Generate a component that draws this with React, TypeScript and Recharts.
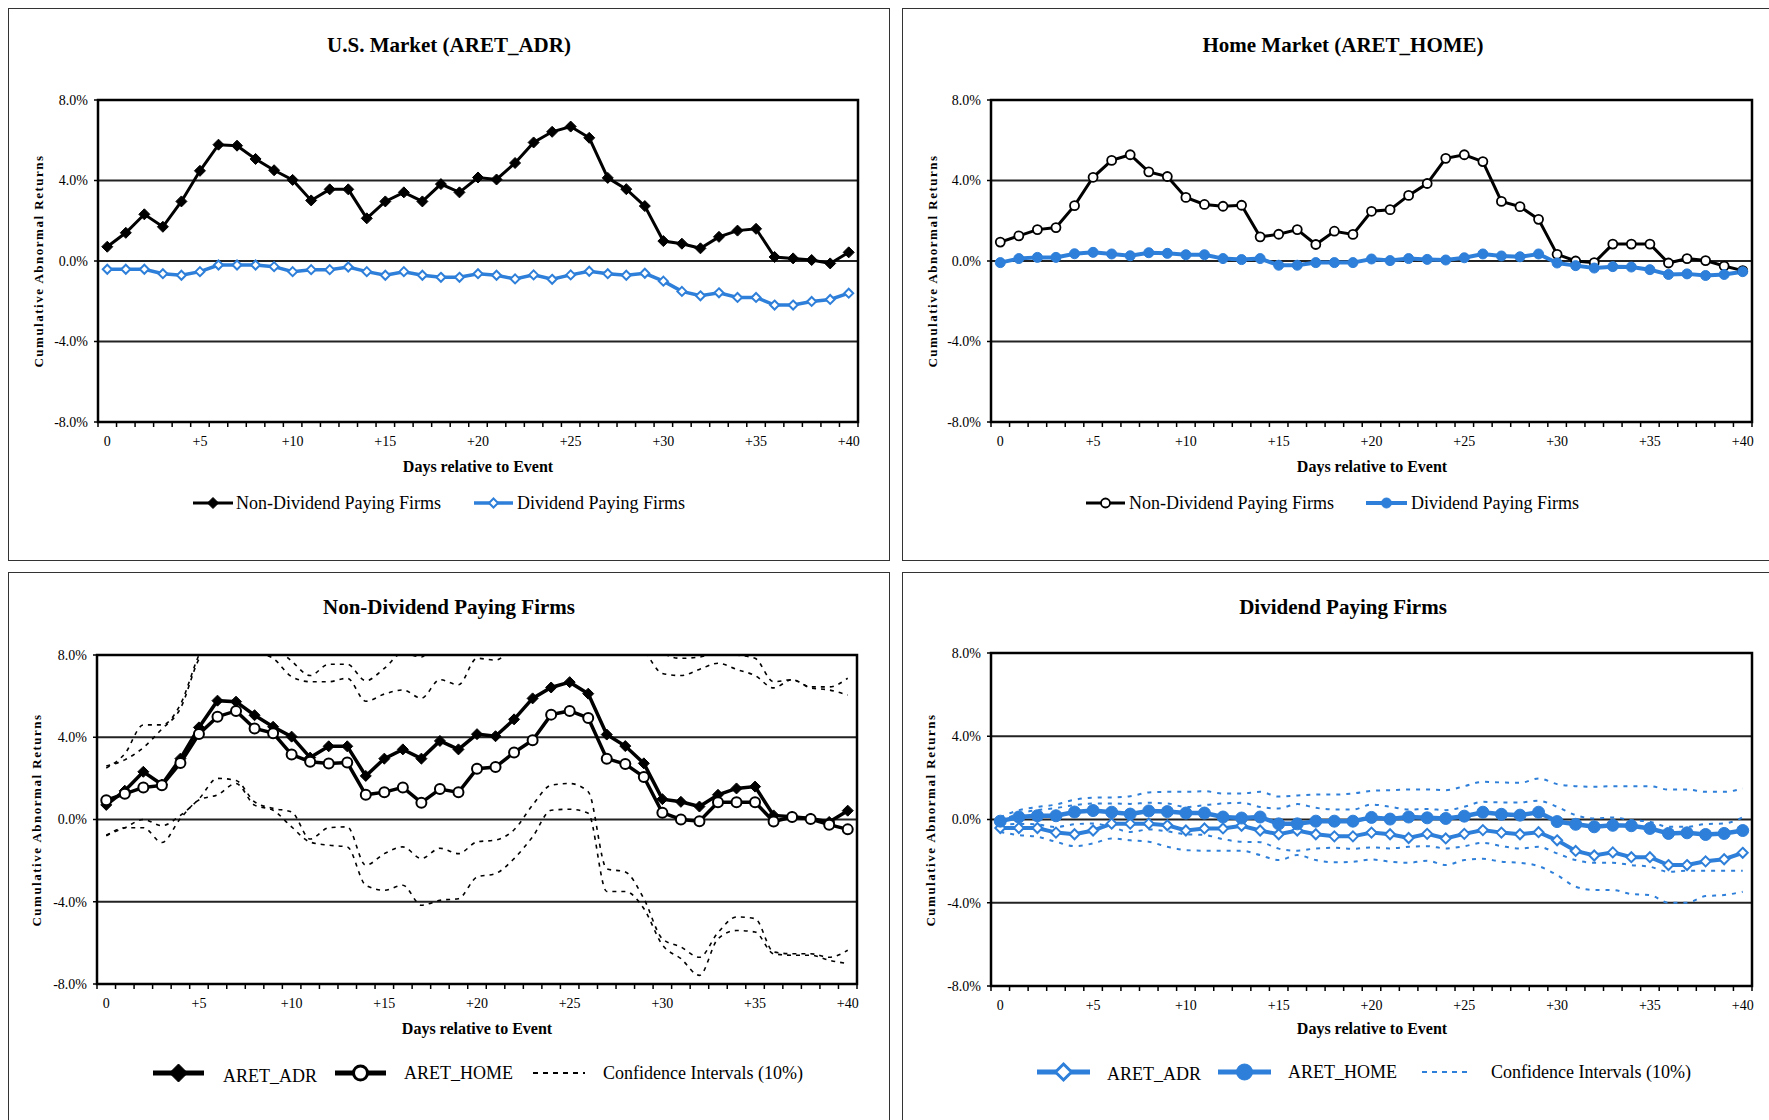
import React from 'react';
import { LineChart, Line, XAxis, YAxis, CartesianGrid, ReferenceArea } from 'recharts';

// Days relative to the event
const days = [0, 1, 2, 3, 4, 5, 6, 7, 8, 9, 10, 11, 12, 13, 14, 15, 16, 17, 18, 19, 20,
  21, 22, 23, 24, 25, 26, 27, 28, 29, 30, 31, 32, 33, 34, 35, 36, 37, 38, 39, 40];
const xTickDays = [0, 5, 10, 15, 20, 25, 30, 35, 40];
const xTickLabels = ['0', '+5', '+10', '+15', '+20', '+25', '+30', '+35', '+40'];
const yTicks = [-8, -4, 0, 4, 8];

// Cumulative abnormal returns, in %
const adrNonDiv = [0.71, 1.40, 2.32, 1.70, 2.96, 4.48, 5.78, 5.73, 5.07, 4.51, 4.03, 3.01, 3.56, 3.56, 2.12, 2.96, 3.41, 2.96, 3.82, 3.41, 4.15,
  4.05, 4.87, 5.89, 6.42, 6.68, 6.12, 4.13, 3.57, 2.73, 0.99, 0.86, 0.63, 1.20, 1.51, 1.60, 0.20, 0.13, 0.05, -0.12, 0.43];
const adrDiv = [-0.41, -0.41, -0.41, -0.63, -0.71, -0.53, -0.20, -0.20, -0.20, -0.28, -0.53, -0.43, -0.43, -0.30, -0.53, -0.71, -0.53, -0.71, -0.81, -0.81, -0.63,
  -0.71, -0.89, -0.69, -0.91, -0.69, -0.51, -0.63, -0.71, -0.61, -1.00, -1.51, -1.73, -1.58, -1.81, -1.81, -2.19, -2.19, -2.01, -1.91, -1.60];
const homeNonDiv = [0.94, 1.25, 1.56, 1.66, 2.75, 4.16, 5.00, 5.28, 4.43, 4.20, 3.16, 2.81, 2.72, 2.77, 1.20, 1.33, 1.56, 0.82, 1.48, 1.32, 2.47,
  2.55, 3.26, 3.85, 5.10, 5.28, 4.94, 2.96, 2.70, 2.07, 0.33, 0.00, -0.08, 0.84, 0.84, 0.84, -0.10, 0.12, 0.02, -0.25, -0.48];
const homeDiv = [-0.08, 0.12, 0.18, 0.18, 0.36, 0.43, 0.35, 0.26, 0.41, 0.38, 0.31, 0.31, 0.12, 0.07, 0.12, -0.21, -0.21, -0.08, -0.08, -0.08, 0.10,
  0.02, 0.12, 0.08, 0.05, 0.16, 0.35, 0.25, 0.21, 0.35, -0.10, -0.23, -0.35, -0.28, -0.30, -0.43, -0.67, -0.64, -0.72, -0.67, -0.53];

// Confidence intervals (10%), non-dividend paying firms
const ciAdrNonDivUp = [2.5, 3.2, 4.6, 4.6, 5.6, 8.0, 9.6, 9.6, 9.3, 8.5, 7.7, 7.0, 7.55, 7.55, 6.75, 7.35, 8.1, 7.9, 8.9, 8.6, 9.3,
  9.2, 9.8, 10.8, 11.3, 11.6, 11.2, 10.7, 10.3, 9.4, 8.1, 7.84, 7.9, 8.1, 8.0, 7.84, 6.7, 6.8, 6.45, 6.45, 6.87];
const ciHomeNonDivUp = [2.6, 2.9, 3.5, 4.4, 5.4, 7.8, 8.8, 8.9, 8.15, 7.84, 6.95, 6.7, 6.7, 6.87, 5.75, 6.1, 6.3, 5.9, 6.8, 6.55, 7.84,
  7.75, 8.4, 8.9, 10.0, 10.1, 9.7, 9.4, 9.2, 8.25, 7.1, 7.0, 7.3, 7.6, 7.3, 7.0, 6.4, 6.8, 6.4, 6.3, 6.05];
const ciAdrNonDivLo = [-0.75, -0.4, 0.0, -0.3, 0.2, 1.0, 2.0, 1.9, 0.86, 0.54, 0.37, -0.95, -0.4, -0.36, -2.22, -1.66, -1.33, -1.9, -1.4, -1.66, -1.09,
  -1.0, -0.5, 0.7, 1.67, 1.75, 1.35, -2.4, -2.55, -3.85, -5.8, -6.2, -6.7, -5.5, -4.74, -4.82, -6.44, -6.53, -6.53, -6.7, -6.36];
const ciHomeNonDivLo = [-0.8, -0.4, -0.4, -1.12, 0.05, 0.95, 1.2, 1.75, 0.7, 0.45, -0.36, -1.1, -1.25, -1.33, -3.2, -3.44, -3.2, -4.17, -3.93, -3.85, -2.8,
  -2.63, -1.9, -0.84, 0.45, 0.5, 0.3, -3.5, -3.5, -4.33, -6.1, -6.77, -7.58, -5.8, -5.4, -5.47, -6.53, -6.6, -6.6, -6.85, -7.0];

// Confidence intervals (10%), dividend paying firms
const ciHomeDivUp = [0.1, 0.45, 0.6, 0.72, 0.95, 1.05, 1.06, 1.12, 1.3, 1.33, 1.33, 1.36, 1.25, 1.25, 1.33, 1.1, 1.15, 1.2, 1.2, 1.25, 1.38,
  1.41, 1.44, 1.44, 1.41, 1.6, 1.81, 1.78, 1.76, 1.97, 1.7, 1.6, 1.57, 1.6, 1.6, 1.6, 1.44, 1.44, 1.33, 1.33, 1.49];
const ciHomeDivLo = [-0.26, -0.21, -0.24, -0.36, -0.23, -0.19, -0.36, -0.6, -0.48, -0.57, -0.71, -0.74, -0.95, -1.07, -1.09, -1.4, -1.5, -1.39, -1.36, -1.41, -1.34,
  -1.39, -1.31, -1.28, -1.39, -1.28, -1.12, -1.28, -1.39, -1.31, -1.63, -1.95, -2.08, -2.08, -2.19, -2.27, -2.51, -2.46, -2.46, -2.46, -2.46];
const ciAdrDivUp = [-0.1, 0.29, 0.45, 0.55, 0.69, 0.77, 0.77, 0.75, 0.8, 0.77, 0.6, 0.69, 0.77, 0.8, 0.6, 0.53, 0.74, 0.56, 0.48, 0.48, 0.72,
  0.61, 0.48, 0.5, 0.45, 0.61, 0.85, 0.82, 0.82, 0.9, 0.61, 0.21, 0.05, 0.1, -0.03, -0.11, -0.35, -0.35, -0.22, -0.19, 0.1];
const ciAdrDivLo = [-0.6, -0.75, -0.83, -1.07, -1.28, -1.15, -0.91, -1.0, -1.07, -1.31, -1.47, -1.5, -1.5, -1.5, -1.71, -1.95, -1.71, -1.95, -2.06, -2.03, -1.92,
  -2.03, -2.08, -1.98, -2.19, -1.95, -1.89, -2.03, -2.08, -2.24, -2.67, -3.23, -3.39, -3.39, -3.58, -3.63, -4.0, -4.0, -3.68, -3.63, -3.47];

const BLUE = '#2e7fd9';
const FONT = '"Liberation Serif", "Times New Roman", serif';
const W = 882;
const H = 553;
const X_AXIS_H = 30;
const Y_AXIS_W = 50;

const rows = days.map((d, i) => ({
  day: d,
  adrNonDiv: adrNonDiv[i],
  adrDiv: adrDiv[i],
  homeNonDiv: homeNonDiv[i],
  homeDiv: homeDiv[i],
  ciAdrNonDivUp: ciAdrNonDivUp[i],
  ciHomeNonDivUp: ciHomeNonDivUp[i],
  ciAdrNonDivLo: ciAdrNonDivLo[i],
  ciHomeNonDivLo: ciHomeNonDivLo[i],
  ciHomeDivUp: ciHomeDivUp[i],
  ciHomeDivLo: ciHomeDivLo[i],
  ciAdrDivUp: ciAdrDivUp[i],
  ciAdrDivLo: ciAdrDivLo[i],
}));

// tick marks sit between categories, labels on every fifth day
const boundaryTicks = [...days, 41].map((d) => d - 0.5);
const allXTicks = [...boundaryTicks, ...xTickDays].sort((a, b) => a - b);

type Marker = 'diamond' | 'diamondOpen' | 'circle' | 'circleOpen' | 'none';

const markerShape = (kind: Marker, cx: number, cy: number, color: string, size: number, sw = 2) => {
  if (kind === 'diamond' || kind === 'diamondOpen') {
    const pts = `${cx},${cy - size} ${cx + size},${cy} ${cx},${cy + size} ${cx - size},${cy}`;
    return (
      <polygon
        points={pts}
        fill={kind === 'diamond' ? color : '#fff'}
        stroke={color}
        strokeWidth={kind === 'diamond' ? 1 : sw}
      />
    );
  }
  if (kind === 'circle' || kind === 'circleOpen') {
    return (
      <circle
        cx={cx}
        cy={cy}
        r={size}
        fill={kind === 'circle' ? color : '#fff'}
        stroke={color}
        strokeWidth={kind === 'circle' ? 1 : sw}
      />
    );
  }
  return null;
};

const dotRenderer = (kind: Marker, color: string, size: number, sw: number) => (props: any) => {
  const { cx, cy, index } = props;
  if (cx == null || cy == null) return <g key={index} />;
  return <g key={index}>{markerShape(kind, cx, cy, color, size, sw)}</g>;
};

interface SeriesSpec {
  key: string;
  color: string;
  width: number;
  marker: Marker;
  size?: number;
  markerStroke?: number;
  dash?: string;
  smooth?: boolean;
}

interface LegendSpec {
  label: string;
  color: string;
  width: number;
  marker: Marker;
  size?: number;
  markerStroke?: number;
  dash?: string;
  x0: number;
  x1: number;
  textX: number;
  textDy?: number;
}

interface PanelProps {
  left: number;
  top: number;
  title: string;
  plot: { l: number; r: number; t: number; b: number };
  titleY: number;
  yLabel: { x: number; y: number };
  xLabel: { x: number; y: number };
  legendY: number;
  series: SeriesSpec[];
  legend: LegendSpec[];
}

const centered: React.CSSProperties = {
  position: 'absolute',
  transform: 'translate(-50%, -50%)',
  whiteSpace: 'nowrap',
  color: '#000',
};

const Panel: React.FC<PanelProps> = ({ left, top, title, plot, titleY, yLabel, xLabel, legendY, series, legend }) => {
  const renderXTick = (p: any) => {
    const v = p.payload.value;
    const x = p.x;
    if (Number.isInteger(v)) {
      const idx = xTickDays.indexOf(v);
      return (
        <text x={x} y={plot.b + 19} textAnchor="middle" dominantBaseline="central" fontSize={14} fill="#000">
          {xTickLabels[idx]}
        </text>
      );
    }
    return <line x1={x} x2={x} y1={plot.b} y2={plot.b + 5} stroke="#000" strokeWidth={1.5} />;
  };

  return (
    <div style={{ position: 'absolute', left, top, width: W, height: H, fontFamily: FONT, background: '#fff' }}>
      <div style={{ position: 'absolute', inset: 0, border: '1px solid #333', boxSizing: 'border-box' }} />
      <div style={{ ...centered, left: W / 2, top: titleY, fontSize: 21, fontWeight: 'bold' }}>{title}</div>
      <div
        style={{
          ...centered,
          left: yLabel.x,
          top: yLabel.y,
          fontSize: 13,
          fontWeight: 'bold',
          letterSpacing: 1.5,
          transform: 'translate(-50%, -50%) rotate(-90deg)',
        }}
      >
        Cumulative Abnormal Returns
      </div>
      <div style={{ ...centered, left: xLabel.x, top: xLabel.y, fontSize: 16, fontWeight: 'bold' }}>
        Days relative to Event
      </div>

      <div style={{ position: 'absolute', left: 0, top: 0 }}>
        <LineChart
          width={W}
          height={H}
          data={rows}
          margin={{ top: plot.t, right: W - plot.r, bottom: H - plot.b - X_AXIS_H, left: plot.l - Y_AXIS_W }}
        >
          <CartesianGrid vertical={false} stroke="#222" strokeWidth={2} />
          <XAxis
            type="number"
            dataKey="day"
            domain={[-0.5, 40.5]}
            ticks={allXTicks}
            interval={0}
            height={X_AXIS_H}
            axisLine={false}
            tickLine={false}
            tickSize={0}
            tickMargin={0}
            tick={renderXTick}
            allowDataOverflow
          />
          <YAxis
            type="number"
            domain={[-8, 8]}
            ticks={yTicks}
            width={Y_AXIS_W}
            allowDataOverflow
            axisLine={false}
            tickSize={4}
            tickMargin={6}
            tickFormatter={(v: number) => `${v.toFixed(1)}%`}
            tick={{ fill: '#000', fontSize: 14 }}
            tickLine={{ stroke: '#000', strokeWidth: 1.5 }}
          />
          {series.map((s) => (
            <Line
              key={s.key}
              dataKey={s.key}
              type={s.smooth ? 'monotone' : 'linear'}
              stroke={s.color}
              strokeWidth={s.width}
              strokeDasharray={s.dash}
              dot={s.marker === 'none' ? false : dotRenderer(s.marker, s.color, s.size || 5, s.markerStroke || 2)}
              activeDot={false}
              isAnimationActive={false}
            />
          ))}
          <ReferenceArea
            x1={-0.5}
            x2={40.5}
            y1={-8}
            y2={8}
            fill="none"
            fillOpacity={0}
            stroke="#000"
            strokeWidth={2.5}
            ifOverflow="visible"
          />
        </LineChart>
      </div>

      {legend.map((it) => {
        const w = it.x1 - it.x0;
        return (
          <React.Fragment key={it.label}>
            <svg
              width={w + 20}
              height={30}
              style={{ position: 'absolute', left: it.x0 - 10, top: legendY - 15, overflow: 'visible' }}
            >
              <line x1={10} x2={10 + w} y1={15} y2={15} stroke={it.color} strokeWidth={it.width} strokeDasharray={it.dash} />
              {markerShape(it.marker, 10 + w / 2, 15, it.color, it.size || 5, it.markerStroke || 2)}
            </svg>
            <div
              style={{
                position: 'absolute',
                left: it.textX,
                top: legendY + (it.textDy || 0),
                transform: 'translateY(-50%)',
                fontSize: 18,
                whiteSpace: 'nowrap',
                color: '#000',
              }}
            >
              {it.label}
            </div>
          </React.Fragment>
        );
      })}
    </div>
  );
};

const App: React.FC = () => {
  return (
    <div style={{ position: 'fixed', left: 0, top: 0, width: 1769, height: 1120, overflow: 'hidden', background: '#fff' }}>
      <style>{'html,body{margin:0;overflow:hidden}'}</style>

      <Panel
        left={8}
        top={8}
        title="U.S. Market (ARET_ADR)"
        plot={{ l: 90, r: 850, t: 92, b: 414 }}
        titleY={37}
        yLabel={{ x: 31, y: 253 }}
        xLabel={{ x: 470, y: 459 }}
        legendY={495}
        series={[
          { key: 'adrNonDiv', color: '#000', width: 3, marker: 'diamond', size: 5.5 },
          { key: 'adrDiv', color: BLUE, width: 3.5, marker: 'diamondOpen', size: 4.5, markerStroke: 2 },
        ]}
        legend={[
          { label: 'Non-Dividend Paying Firms', color: '#000', width: 3, marker: 'diamond', size: 5.5, x0: 185, x1: 225, textX: 228 },
          { label: 'Dividend Paying Firms', color: BLUE, width: 3.5, marker: 'diamondOpen', size: 4.5, x0: 466, x1: 505, textX: 509 },
        ]}
      />

      <Panel
        left={902}
        top={8}
        title="Home Market (ARET_HOME)"
        plot={{ l: 89, r: 850, t: 92, b: 414 }}
        titleY={37}
        yLabel={{ x: 31, y: 253 }}
        xLabel={{ x: 470, y: 459 }}
        legendY={495}
        series={[
          { key: 'homeNonDiv', color: '#000', width: 3, marker: 'circleOpen', size: 4.5, markerStroke: 1.8 },
          { key: 'homeDiv', color: BLUE, width: 4, marker: 'circle', size: 5 },
        ]}
        legend={[
          { label: 'Non-Dividend Paying Firms', color: '#000', width: 3, marker: 'circleOpen', size: 4.5, markerStroke: 1.8, x0: 184, x1: 223, textX: 227 },
          { label: 'Dividend Paying Firms', color: BLUE, width: 4, marker: 'circle', size: 5, x0: 464, x1: 505, textX: 509 },
        ]}
      />

      <Panel
        left={8}
        top={572}
        title="Non-Dividend Paying Firms"
        plot={{ l: 89, r: 849, t: 83, b: 412 }}
        titleY={35}
        yLabel={{ x: 29, y: 248 }}
        xLabel={{ x: 469, y: 457 }}
        legendY={501}
        series={[
          { key: 'ciAdrNonDivUp', color: '#000', width: 1.6, marker: 'none', dash: '4 5', smooth: true },
          { key: 'ciHomeNonDivUp', color: '#000', width: 1.6, marker: 'none', dash: '4 5', smooth: true },
          { key: 'ciAdrNonDivLo', color: '#000', width: 1.6, marker: 'none', dash: '4 5', smooth: true },
          { key: 'ciHomeNonDivLo', color: '#000', width: 1.6, marker: 'none', dash: '4 5', smooth: true },
          { key: 'adrNonDiv', color: '#000', width: 3.5, marker: 'diamond', size: 5.5 },
          { key: 'homeNonDiv', color: '#000', width: 3.5, marker: 'circleOpen', size: 5, markerStroke: 2 },
        ]}
        legend={[
          { label: 'ARET_ADR', color: '#000', width: 5, marker: 'diamond', size: 9, x0: 145, x1: 196, textX: 215, textDy: 3 },
          { label: 'ARET_HOME', color: '#000', width: 5, marker: 'circleOpen', size: 7, markerStroke: 3, x0: 327, x1: 378, textX: 396 },
          { label: 'Confidence Intervals (10%)', color: '#000', width: 1.8, marker: 'none', dash: '5 5', x0: 525, x1: 577, textX: 595 },
        ]}
      />

      <Panel
        left={902}
        top={572}
        title="Dividend Paying Firms"
        plot={{ l: 89, r: 850, t: 81, b: 414 }}
        titleY={35}
        yLabel={{ x: 29, y: 248 }}
        xLabel={{ x: 470, y: 457 }}
        legendY={500}
        series={[
          { key: 'ciHomeDivUp', color: BLUE, width: 2, marker: 'none', dash: '4 6', smooth: true },
          { key: 'ciAdrDivUp', color: BLUE, width: 2, marker: 'none', dash: '4 6', smooth: true },
          { key: 'ciHomeDivLo', color: BLUE, width: 2, marker: 'none', dash: '4 6', smooth: true },
          { key: 'ciAdrDivLo', color: BLUE, width: 2, marker: 'none', dash: '4 6', smooth: true },
          { key: 'adrDiv', color: BLUE, width: 4, marker: 'diamondOpen', size: 5, markerStroke: 2 },
          { key: 'homeDiv', color: BLUE, width: 4.5, marker: 'circle', size: 6 },
        ]}
        legend={[
          { label: 'ARET_ADR', color: BLUE, width: 5, marker: 'diamondOpen', size: 8, markerStroke: 3, x0: 135, x1: 188, textX: 205, textDy: 2 },
          { label: 'ARET_HOME', color: BLUE, width: 5, marker: 'circle', size: 8, x0: 316, x1: 369, textX: 386 },
          { label: 'Confidence Intervals (10%)', color: BLUE, width: 2, marker: 'none', dash: '5 5', x0: 520, x1: 570, textX: 589 },
        ]}
      />
    </div>
  );
};

export default App;
